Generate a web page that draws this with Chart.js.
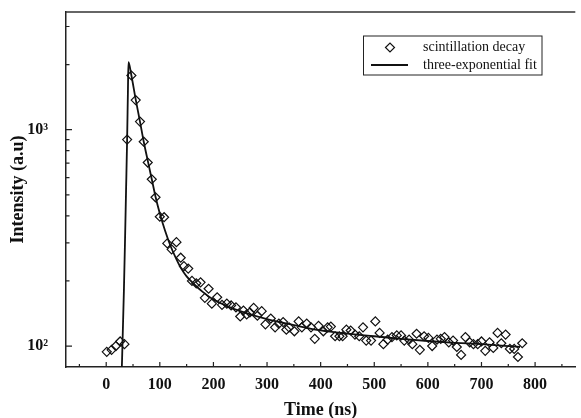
<!DOCTYPE html>
<html>
<head>
<meta charset="utf-8">
<script src="https://cdn.jsdelivr.net/npm/chart.js@4/dist/chart.umd.min.js"></script>
<style>
  html, body { margin: 0; padding: 0; background: #fff; }
  #wrap { width: 581px; height: 418px; }
</style>
</head>
<body>
<div id="wrap"><canvas id="myChart" width="581" height="418"></canvas></div>
<script>
// measured decay (diamonds)
const decayTime = [1, 10, 18, 26, 34, 39, 47, 55, 63, 70, 77.5, 85, 92, 100, 108, 114, 122, 131, 139, 145,
  153, 160, 168, 176, 184, 191, 197, 207, 216, 225, 233, 242, 250, 256, 262, 268, 275, 282, 290, 297,
  307, 315, 322, 330, 336, 341, 351, 359, 365, 374, 382, 389, 396, 405, 413, 419, 427, 435, 441, 448,
  456, 464, 472, 479, 485, 494, 502, 510, 517, 525, 533, 542, 550, 556, 565, 571, 579, 585, 593, 601,
  608, 617, 624, 631, 639, 647, 654, 662, 670, 678, 685, 693, 700, 707, 715, 722, 730, 737, 745, 753,
  761, 768, 776]
const decayCounts = [94, 96, 100, 105, 102, 900, 1780, 1370, 1090, 880, 705, 590, 487, 396, 394, 298, 280, 302, 256, 234,
  228, 200, 195, 197, 167, 184, 157, 168, 155, 157, 154, 151, 137, 146, 140, 143, 150, 138, 145, 126,
  134, 122, 127, 129, 119, 122, 117, 130, 122, 127, 122, 108, 124, 117, 122, 123, 111, 111, 111, 119,
  118, 113, 111, 122, 106, 106, 130, 115, 102, 107, 110, 112, 112, 106, 107, 102, 114, 96, 111, 109,
  100, 107, 108, 110, 104, 106, 99, 91, 110, 104, 102, 102, 105, 95, 104, 98, 115, 103, 113, 97,
  97, 89, 103]

// three-exponential fit (solid line)
const fitTime = [27, 29.5, 33, 35, 37, 39, 40.5, 41.5, 47, 55, 63, 70, 78, 85, 92, 100, 110, 120, 130, 140,
  150, 165, 180, 200, 225, 250, 300, 350, 400, 450, 500, 550, 600, 650, 700, 750, 772]
const fitCounts = [55, 85, 180, 300, 520, 900, 1500, 2050, 1780, 1380, 1090, 880, 710, 590, 490, 410, 340, 290, 255, 228,
  210, 192, 178, 164, 153, 145, 133, 125, 118, 114, 111, 108, 105.5, 103.5, 102, 100, 99]

// axis ticks
const xMajorTicks = [0, 100, 200, 300, 400, 500, 600, 700, 800]
const xMinorTicks = [-50, 50, 150, 250, 350, 450, 550, 650, 750, 850]
const yMajorTicks = [100, 1000]
const yMinorTicks = [200, 300, 400, 500, 600, 700, 800, 900, 2000, 3000]
const yTickLabels = { 100: '10²', 1000: '10³' }

const legendLabels = ['scintillation decay', 'three-exponential fit']

const ink = '#111'
const serif = "'Liberation Serif', 'DejaVu Serif', serif"

const toPoints = (xs, ys) => xs.map((x, i) => ({ x: x, y: ys[i] }))

// inward tick marks, top frame line and boxed legend
const framePlugin = {
  id: 'frame',
  afterDatasetsDraw(chart) {
    const ctx = chart.ctx
    const area = chart.chartArea
    const xs = chart.scales.x
    const ys = chart.scales.y
    ctx.save()
    ctx.strokeStyle = '#222'
    ctx.lineWidth = 1.2

    ctx.beginPath()
    xMajorTicks.forEach((v) => {
      const px = xs.getPixelForValue(v)
      ctx.moveTo(px, area.bottom); ctx.lineTo(px, area.bottom - 5)
    })
    xMinorTicks.forEach((v) => {
      const px = xs.getPixelForValue(v)
      ctx.moveTo(px, area.bottom); ctx.lineTo(px, area.bottom - 3)
    })
    yMajorTicks.forEach((v) => {
      const py = ys.getPixelForValue(v)
      ctx.moveTo(area.left, py); ctx.lineTo(area.left + 6, py)
    })
    yMinorTicks.forEach((v) => {
      const py = ys.getPixelForValue(v)
      ctx.moveTo(area.left, py); ctx.lineTo(area.left + 3.5, py)
    })
    ctx.stroke()

    // top frame
    ctx.lineWidth = 1.5
    ctx.strokeStyle = '#333'
    ctx.beginPath()
    ctx.moveTo(area.left, area.top); ctx.lineTo(area.right, area.top)
    ctx.stroke()

    // legend box
    const bx = 363.5, by = 36, bw = 178.5, bh = 39
    ctx.lineWidth = 1
    ctx.strokeStyle = '#222'
    ctx.strokeRect(bx, by, bw, bh)

    const d0 = chart.data.datasets[0]
    const d1 = chart.data.datasets[1]
    const row1 = by + 11.5, row2 = by + 29
    ctx.beginPath()
    ctx.lineWidth = d0.borderWidth
    ctx.strokeStyle = d0.borderColor
    ctx.moveTo(390 - 4.5, row1); ctx.lineTo(390, row1 - 4.5); ctx.lineTo(390 + 4.5, row1); ctx.lineTo(390, row1 + 4.5)
    ctx.closePath()
    ctx.stroke()

    ctx.beginPath()
    ctx.lineWidth = d1.borderWidth
    ctx.strokeStyle = d1.borderColor
    ctx.moveTo(371, row2); ctx.lineTo(408, row2)
    ctx.stroke()

    ctx.fillStyle = ink
    ctx.font = '14px ' + serif
    ctx.textBaseline = 'middle'
    ctx.textAlign = 'left'
    ctx.fillText(legendLabels[0], 423, row1)
    ctx.fillText(legendLabels[1], 423, row2)
    ctx.restore()
  }
}

const ctx = document.getElementById('myChart').getContext('2d')

const chart = new Chart(ctx, {
  type: 'scatter',
  data: {
    datasets: [
      {
        label: legendLabels[0],
        data: toPoints(decayTime, decayCounts),
        pointStyle: 'rectRot',
        pointRadius: 4.5,
        borderColor: ink,
        backgroundColor: 'rgba(0,0,0,0)',
        borderWidth: 1.2,
        showLine: false
      },
      {
        label: legendLabels[1],
        type: 'line',
        data: toPoints(fitTime, fitCounts),
        borderColor: ink,
        borderWidth: 1.8,
        pointRadius: 0,
        fill: false,
        cubicInterpolationMode: 'monotone'
      }
    ]
  },
  options: {
    responsive: false,
    animation: false,
    layout: { padding: { top: 12, right: 0, left: 0, bottom: 0 } },
    plugins: {
      legend: { display: false },
      tooltip: { enabled: false }
    },
    scales: {
      x: {
        type: 'linear',
        min: -75,
        max: 875,
        afterBuildTicks: (scale) => { scale.ticks = xMajorTicks.map((v) => ({ value: v })) },
        afterFit: (scale) => {
          scale.height = 51
          scale.paddingLeft = 0
          scale.paddingRight = 0
        },
        grid: { display: false },
        border: { display: true, color: '#222', width: 1.5 },
        ticks: {
          color: ink,
          padding: 0,
          maxRotation: 0,
          font: { family: serif, size: 16, weight: 'bold' }
        },
        title: {
          display: true,
          text: 'Time (ns)',
          color: ink,
          padding: 0,
          font: { family: serif, size: 18, weight: 'bold', lineHeight: 0.9 }
        }
      },
      y: {
        type: 'logarithmic',
        min: 80,
        max: 3500,
        afterBuildTicks: (scale) => { scale.ticks = yMajorTicks.map((v) => ({ value: v })) },
        afterFit: (scale) => {
          scale.width = 66
          scale.paddingTop = 0
          scale.paddingBottom = 0
        },
        grid: { display: false },
        border: { display: true, color: '#222', width: 1.5 },
        ticks: {
          color: ink,
          padding: 10,
          font: { family: serif, size: 16, weight: 'bold' },
          callback: (v) => yTickLabels[v] || ''
        },
        title: {
          display: true,
          text: 'Intensity (a.u)',
          color: ink,
          padding: { top: 8, bottom: 0 },
          font: { family: serif, size: 18, weight: 'bold' }
        }
      }
    }
  },
  plugins: [framePlugin]
})
</script>
</body>
</html>
